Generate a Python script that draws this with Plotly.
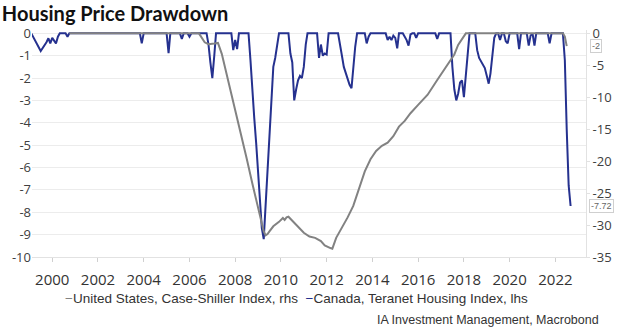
import plotly.graph_objects as go

# ---------------- data ----------------
canada_dates = [
    "1999-02", "1999-07", "1999-10", "1999-11", "1999-12", "2000-01", "2000-03", "2000-04", "2000-05",
    "2000-08", "2000-09", "2000-10",
    "2003-11", "2003-12", "2004-01",
    "2005-01", "2005-02", "2005-03",
    "2005-08", "2005-09", "2005-10",
    "2005-12", "2006-01", "2006-02",
    "2006-10", "2006-11", "2006-12", "2007-01", "2007-02", "2007-03",
    "2007-11", "2007-12", "2008-01", "2008-02", "2008-03",
    "2008-08", "2008-09", "2008-10", "2008-11", "2008-12", "2009-01", "2009-02", "2009-03", "2009-04",
    "2009-05", "2009-06", "2009-07", "2009-08", "2009-09", "2009-10", "2009-11", "2009-12",
    "2010-05", "2010-06", "2010-07", "2010-08", "2010-09", "2010-10", "2010-11", "2010-12", "2011-01",
    "2011-02", "2011-03",
    "2011-08", "2011-09", "2011-10", "2011-11", "2011-12", "2012-01", "2012-02",
    "2012-07", "2012-08", "2012-09", "2012-10", "2012-11", "2012-12", "2013-01", "2013-02", "2013-03",
    "2013-04", "2013-05",
    "2013-09", "2013-10", "2013-11", "2013-12",
    "2014-08", "2014-09", "2014-10", "2014-11", "2014-12", "2015-01", "2015-02", "2015-03",
    "2015-05", "2015-06", "2015-07", "2015-08", "2015-09", "2015-10",
    "2015-11", "2015-12", "2016-01",
    "2016-10", "2016-11", "2016-12",
    "2017-06", "2017-07", "2017-08", "2017-09", "2017-10", "2017-11", "2017-12", "2018-01", "2018-02",
    "2018-03", "2018-04",
    "2018-07", "2018-08", "2018-09", "2018-10", "2018-11", "2018-12", "2019-01", "2019-02", "2019-03",
    "2019-04", "2019-05", "2019-06",
    "2019-07", "2019-08", "2019-09",
    "2019-10", "2019-11", "2019-12", "2020-01",
    "2020-05", "2020-06", "2020-07",
    "2020-10", "2020-11", "2020-12", "2021-01", "2021-02", "2021-03",
    "2021-09", "2021-10", "2021-11",
    "2022-05", "2022-06", "2022-07", "2022-08", "2022-09",
]
canada_values = [
    0, -0.79, -0.4, -0.22, -0.45, -0.2, -0.45, -0.15, 0,
    0, -0.15, 0,
    0, -0.45, 0,
    0, -0.88, 0,
    0, -0.25, 0,
    0, -0.15, 0,
    0, -0.5, -1.3, -2.0, -1.0, 0,
    0, -0.75, -0.3, -0.7, 0,
    0, -1.2, -2.7, -3.8, -4.9, -6.2, -7.5, -8.7, -9.2,
    -7.6, -6.1, -4.7, -2.9, -1.5, -1.1, -0.6, 0,
    0, -0.9, -1.3, -3.0, -2.5, -2.1, -1.9, -2.0, -1.5,
    -0.5, 0,
    0, -1.1, -0.5, -1.0, -0.9, -0.95, 0,
    0, -0.6, -1.0, -1.5, -1.8, -2.1, -2.3, -2.45, -1.5,
    -0.6, 0,
    0, -0.45, -0.15, 0,
    0, -0.3, -0.15, -0.3, -0.1, -0.2, -0.67, 0,
    0, -0.15, -0.3, -0.55, -0.05, 0,
    0, -0.2, 0,
    0, -0.25, 0,
    0, -1.5, -2.5, -3.0, -2.7, -2.2, -2.1, -2.85, -1.9,
    -0.8, 0,
    0, -0.75, -1.1, -1.25, -1.35, -1.55, -1.9, -2.25, -1.8,
    -0.9, -0.2, 0,
    0, -0.3, 0,
    0, -0.35, -0.45, 0,
    0, -0.7, 0,
    0, -0.55, -0.1, 0, -0.55, 0,
    0, -0.45, 0,
    0, -1.2, -4.3, -6.8, -7.72,
]

us_dates = [
    "2000-10", "2006-06", "2006-09", "2006-11", "2007-02", "2007-04", "2007-06", "2007-07", "2007-09",
    "2007-11", "2008-01", "2008-04", "2008-07", "2008-10", "2009-01", "2009-03", "2009-04", "2009-05",
    "2009-06", "2009-07", "2009-09", "2009-12", "2010-02", "2010-03", "2010-04", "2010-05", "2010-07",
    "2010-10", "2011-01", "2011-04", "2011-07", "2011-10", "2011-12", "2012-03", "2012-04", "2012-06",
    "2012-09", "2012-12", "2013-03", "2013-06", "2013-09", "2013-12", "2014-03", "2014-06", "2014-09",
    "2014-12", "2015-03", "2015-06", "2015-09", "2016-01", "2016-06", "2016-11", "2017-03", "2017-08",
    "2017-10", "2017-12", "2018-02", "2022-05", "2022-06", "2022-07",
]
us_values = [
    0, 0, -1.4, -1.7, -1.6, -1.5, -3.2, -4.4, -7.0,
    -9.5, -12.0, -15.6, -19.5, -23.5, -27.3, -29.8, -31.0, -31.6,
    -31.4, -31.0, -30.2, -29.5, -28.9, -29.2, -28.8, -28.7, -29.3,
    -30.3, -31.2, -31.8, -32.0, -32.5, -33.2, -33.6, -33.7, -32.0,
    -30.4, -28.8, -27.0, -24.2, -21.6, -19.7, -18.4, -17.6, -17.1,
    -16.1, -14.6, -13.7, -12.5, -11.2, -9.6, -7.3, -5.6, -3.3,
    -1.8, -0.8, 0, 0, -0.5, -2.0,
]

year_ticks = ["2000", "2002", "2004", "2006", "2008", "2010", "2012",
              "2014", "2016", "2018", "2020", "2022"]
left_ticks = [0, -1, -2, -3, -4, -5, -6, -7, -8, -9, -10]
right_ticks = [0, -5, -10, -15, -20, -25, -30, -35]

title_text = "Housing Price Drawdown"
us_name = "United States, Case-Shiller Index, rhs"
ca_name = "Canada, Teranet Housing Index, lhs"
source_text = "IA Investment Management, Macrobond"

# ---------------- styling ----------------
BLUE = "#25318f"
GRAY = "#828282"
GRID = "#ececec"
TXT = "#404040"

fig = go.Figure()
fig.add_trace(go.Scatter(
    x=[d + "-01" for d in canada_dates], y=canada_values, mode="lines",
    line=dict(color=BLUE, width=2), yaxis="y", name=ca_name, showlegend=False,
))
fig.add_trace(go.Scatter(
    x=[d + "-01" for d in us_dates], y=us_values, mode="lines",
    line=dict(color=GRAY, width=2), yaxis="y2", name=us_name, showlegend=False,
))

top_pad = 0.15
fig.update_layout(
    width=624, height=329,
    margin=dict(l=22, r=27, t=30, b=72),
    paper_bgcolor="white", plot_bgcolor="white",
    title=dict(text="<b>" + title_text + "</b>", x=0.003, xref="container", xanchor="left",
               y=1 - 14 / 329, yref="container", yanchor="middle",
               font=dict(family="Lato", size=20, color="#111111")),
    xaxis=dict(
        type="date", range=["1999-02-12", "2023-05-05"],
        tickvals=[y + "-01-01" for y in year_ticks], ticktext=year_ticks,
        ticks="outside", ticklen=4, tickcolor="#d0d0d0", ticklabelstandoff=5,
        showgrid=False, showline=True, linecolor="#e2e2e2", linewidth=1,
        tickfont=dict(family="Open Sans", size=15, color="#333333"),
        zeroline=False,
    ),
    yaxis=dict(
        range=[-10, top_pad], tickvals=left_ticks, ticktext=[str(v) for v in left_ticks],
        showgrid=True, gridcolor=GRID, gridwidth=1, zeroline=False, showline=False,
        ticks="", tickfont=dict(family="Open Sans", size=13, color=TXT),
    ),
    yaxis2=dict(
        range=[-35, top_pad * 3.5], overlaying="y", side="right",
        tickvals=right_ticks, ticktext=[str(v) for v in right_ticks],
        showgrid=False, zeroline=False, showline=True, linecolor="#e2e2e2",
        ticks="outside", ticklen=3, tickcolor="#e2e2e2",
        tickfont=dict(family="Open Sans", size=13, color=TXT),
    ),
)

def px_x(px):
    return (px - 22) / 575.0

def px_y(py):
    return (257 - py) / 227.0

annotations = [
    dict(xref="paper", yref="paper", x=px_x(54), y=px_y(298), xanchor="left", yanchor="middle",
         showarrow=False,
         text=("<span style='color:%s'>\u2212</span>%s  "
               "<span style='color:%s'>\u2212</span>%s") % (GRAY, us_name, BLUE, ca_name),
         font=dict(family="Liberation Sans", size=13.5, color="#333333")),
    dict(xref="paper", yref="paper", x=px_x(613), y=px_y(320), xanchor="right", yanchor="middle",
         showarrow=False, text=source_text,
         font=dict(family="Liberation Sans", size=12.5, color="#333333")),
    dict(xref="paper", yref="y2", x=px_x(601), y=us_values[-1], xanchor="left", yanchor="middle",
         showarrow=False, text="%g" % us_values[-1], bgcolor="white",
         bordercolor="#cfcfcf", borderwidth=1, borderpad=1,
         font=dict(family="Liberation Sans", size=9, color="#666666")),
    dict(xref="paper", yref="y", x=px_x(600), y=canada_values[-1], xanchor="left", yanchor="middle",
         showarrow=False, text="%.2f" % canada_values[-1], bgcolor="white",
         bordercolor="#cfcfcf", borderwidth=1, borderpad=1,
         font=dict(family="Liberation Sans", size=9, color="#666666")),
]
fig.update_layout(annotations=annotations)

fig.write_html("out.html")
